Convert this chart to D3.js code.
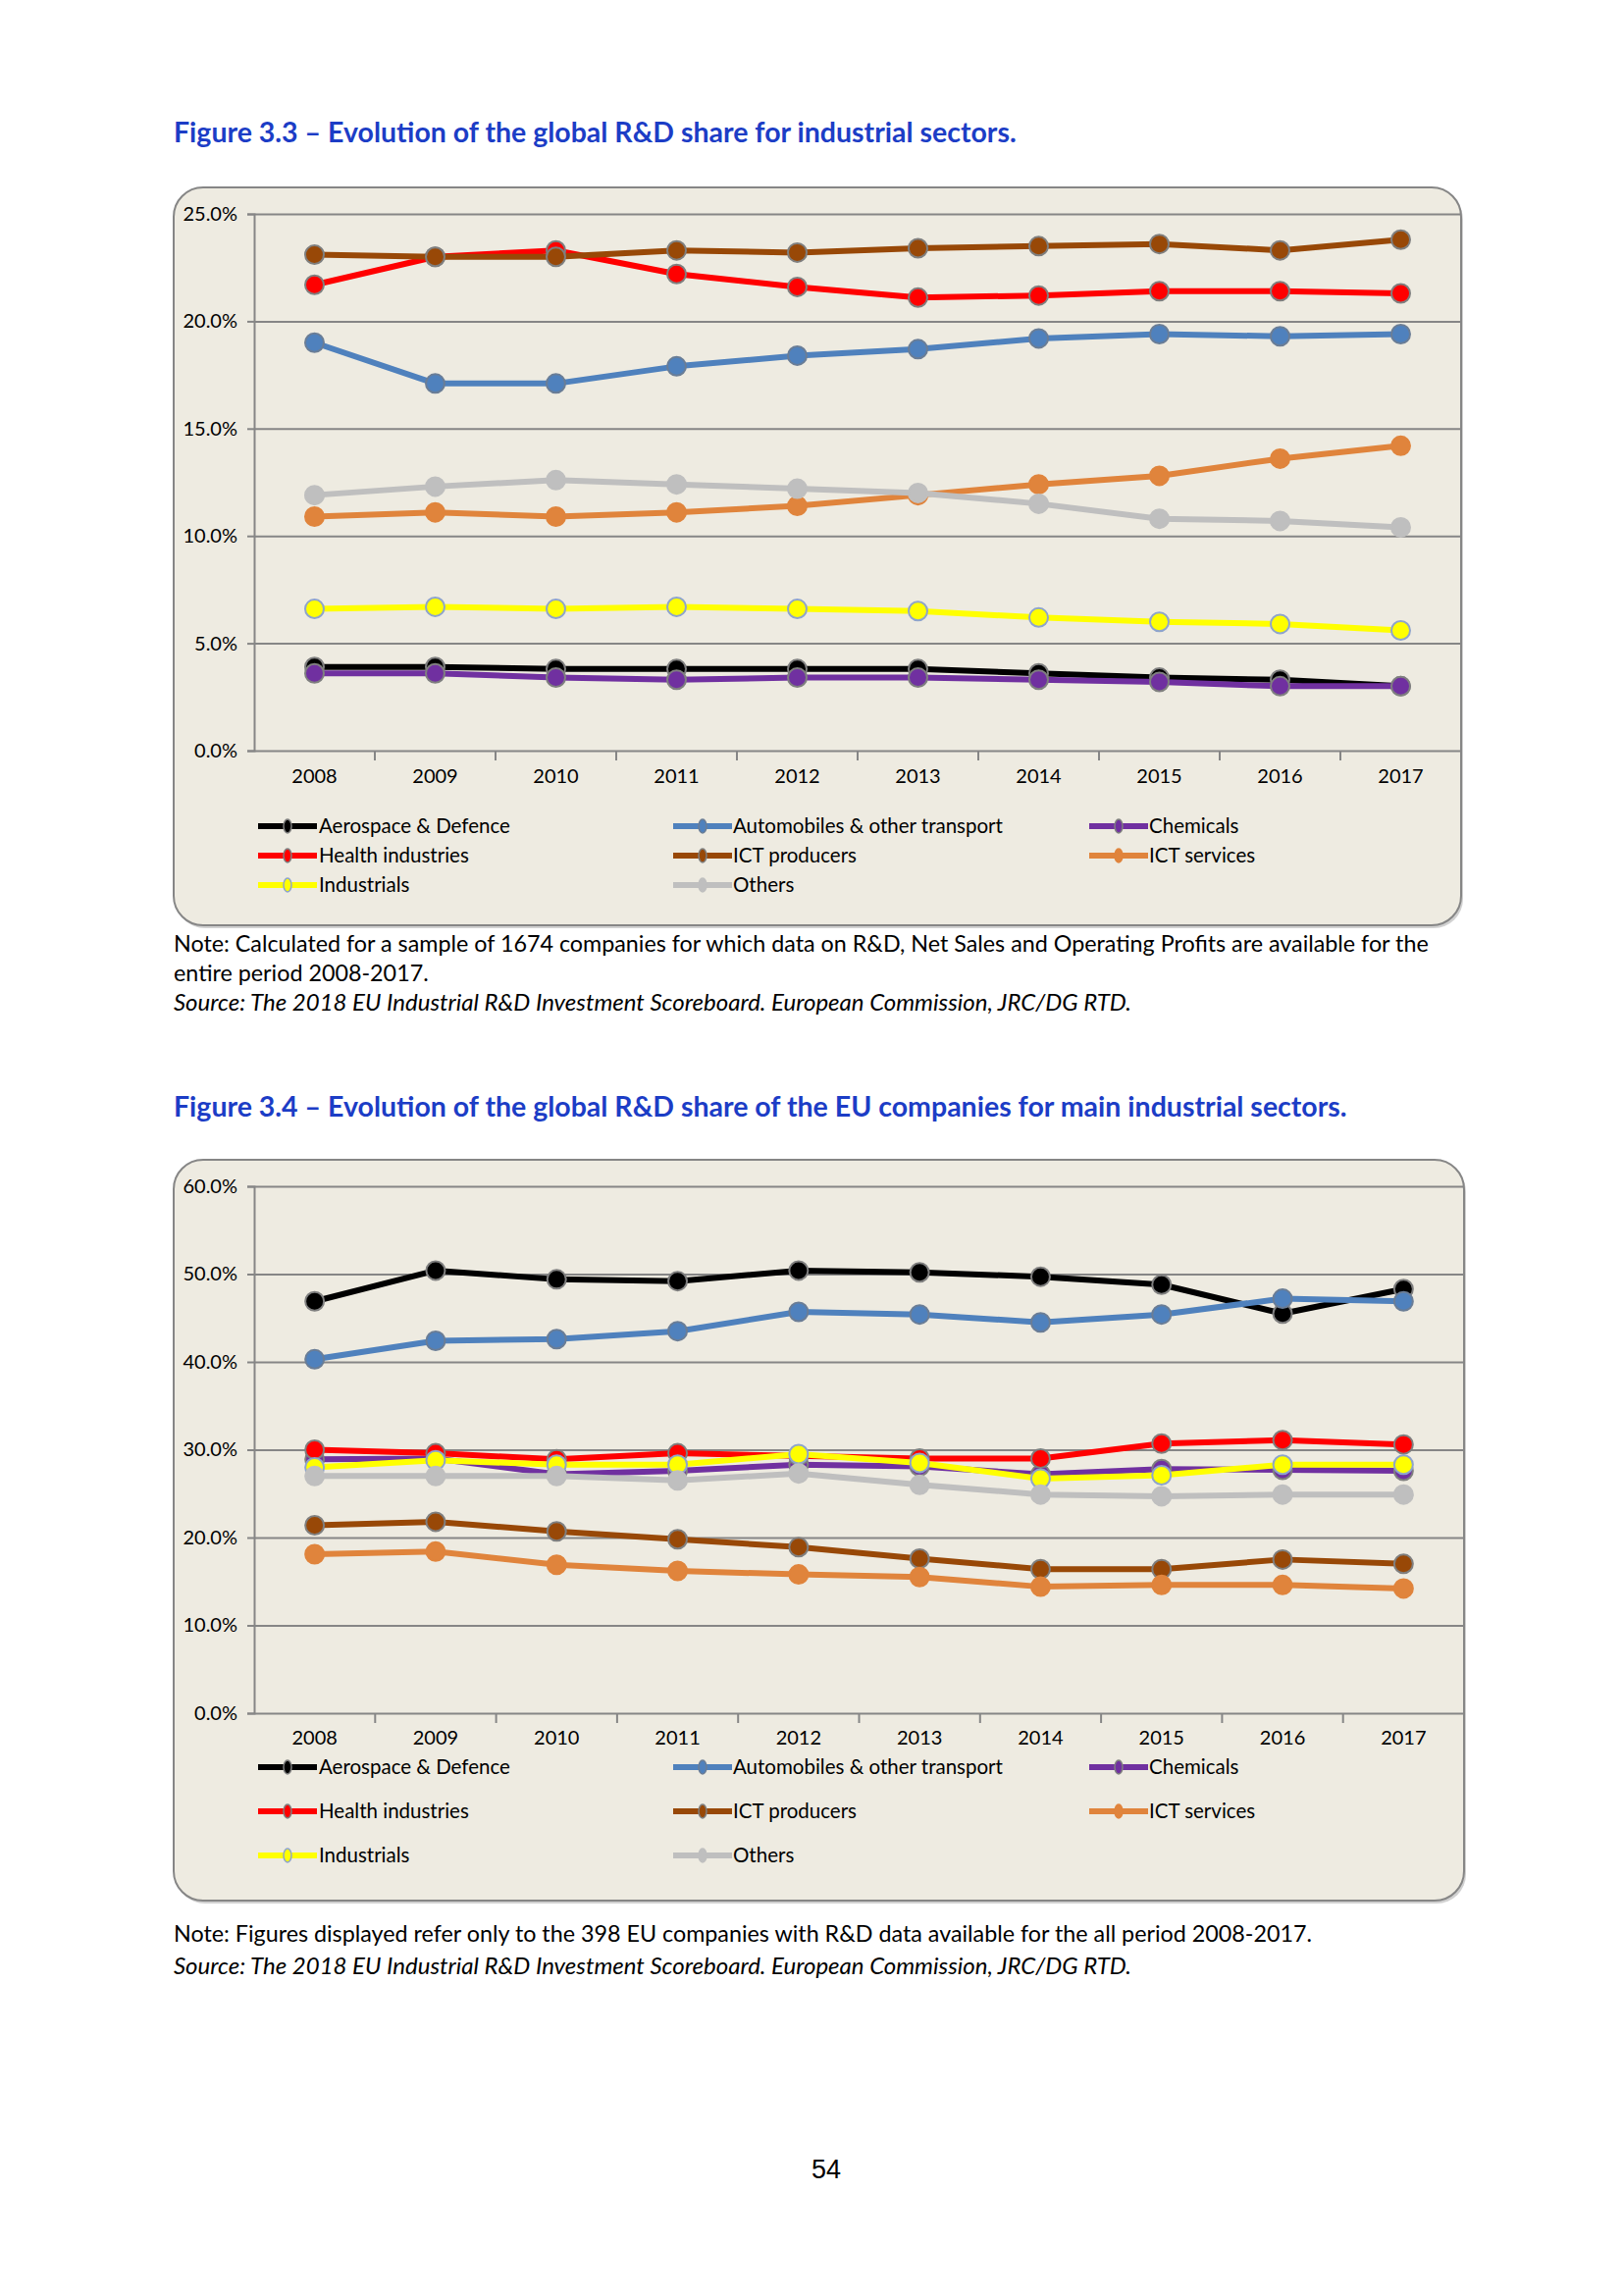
<!DOCTYPE html>
<html>
<head>
<meta charset="utf-8">
<script src="https://cdn.jsdelivr.net/npm/d3@7/dist/d3.min.js"></script>
<style>
  body { margin: 0; background: #ffffff; }
  svg { display: block; }
</style>
</head>
<body>
<svg id="page"></svg>
<script>
// data (values in %)
const years = ["2008", "2009", "2010", "2011", "2012", "2013", "2014", "2015", "2016", "2017"];

const sectors = [
  "Aerospace & Defence", "Automobiles & other transport", "Chemicals",
  "Health industries", "ICT producers", "ICT services", "Industrials", "Others"
];

// Figure 3.3 - global R&D share
const aero33 = [3.9, 3.9, 3.8, 3.8, 3.8, 3.8, 3.6, 3.4, 3.3, 3.0];
const auto33 = [19.0, 17.1, 17.1, 17.9, 18.4, 18.7, 19.2, 19.4, 19.3, 19.4];
const chem33 = [3.6, 3.6, 3.4, 3.3, 3.4, 3.4, 3.3, 3.2, 3.0, 3.0];
const health33 = [21.7, 23.0, 23.3, 22.2, 21.6, 21.1, 21.2, 21.4, 21.4, 21.3];
const ictProd33 = [23.1, 23.0, 23.0, 23.3, 23.2, 23.4, 23.5, 23.6, 23.3, 23.8];
const ictServ33 = [10.9, 11.1, 10.9, 11.1, 11.4, 11.9, 12.4, 12.8, 13.6, 14.2];
const indus33 = [6.6, 6.7, 6.6, 6.7, 6.6, 6.5, 6.2, 6.0, 5.9, 5.6];
const others33 = [11.9, 12.3, 12.6, 12.4, 12.2, 12.0, 11.5, 10.8, 10.7, 10.4];
const yTicks33 = [0, 5, 10, 15, 20, 25];

// Figure 3.4 - global R&D share of the EU companies
const aero34 = [46.9, 50.4, 49.4, 49.2, 50.4, 50.2, 49.7, 48.8, 45.5, 48.3];
const auto34 = [40.3, 42.4, 42.6, 43.5, 45.7, 45.4, 44.5, 45.4, 47.2, 46.9];
const chem34 = [28.9, 29.0, 27.2, 27.6, 28.3, 28.1, 27.2, 27.8, 27.7, 27.6];
const health34 = [30.0, 29.6, 28.9, 29.6, 29.3, 29.0, 29.0, 30.7, 31.1, 30.6];
const ictProd34 = [21.4, 21.8, 20.7, 19.8, 18.9, 17.6, 16.4, 16.4, 17.5, 17.0];
const ictServ34 = [18.1, 18.4, 16.9, 16.2, 15.8, 15.5, 14.4, 14.6, 14.6, 14.2];
const indus34 = [28.0, 28.8, 28.3, 28.3, 29.5, 28.5, 26.7, 27.1, 28.3, 28.3];
const others34 = [27.0, 27.0, 27.0, 26.5, 27.3, 26.0, 24.9, 24.7, 24.9, 24.9];
const yTicks34 = [0, 10, 20, 30, 40, 50, 60];

const sector_color = {
  "Aerospace & Defence": "#000000",
  "Automobiles & other transport": "#4f81bd",
  "Chemicals": "#7030a0",
  "Health industries": "#ff0000",
  "ICT producers": "#984807",
  "ICT services": "#e0843c",
  "Industrials": "#ffff00",
  "Others": "#bfbfbf",
};
const sector_marker_stroke = {
  "Aerospace & Defence": "#7f7f7f",
  "Automobiles & other transport": "#6a7d96",
  "Chemicals": "#7f7f7f",
  "Health industries": "#7f7f7f",
  "ICT producers": "#7f7f7f",
  "ICT services": "#e0843c",
  "Industrials": "#8ea4cc",
  "Others": "#bfbfbf",
};

const FONT = "Lato, 'Open Sans', sans-serif";
const width = 1654;
const height = 2340;

const svg = d3.select("svg#page")
  .attr("width", width)
  .attr("height", height)
  .attr("viewBox", [0, 0, width, height]);

svg.append("rect").attr("width", width).attr("height", height).attr("fill", "#ffffff");

function drawFigure(cfg) {
  const g = svg.append("g");

  // title
  g.append("text")
    .attr("x", 177)
    .attr("y", cfg.titleY)
    .attr("font-family", FONT)
    .attr("font-weight", "bold")
    .attr("font-size", 28.5)
    .attr("fill", "#1c3dc6")
    .text(cfg.title);

  // chart box with a little shadow
  g.append("rect")
    .attr("x", cfg.box.x + 2).attr("y", cfg.box.y + 3)
    .attr("width", cfg.box.w).attr("height", cfg.box.h)
    .attr("rx", 30).attr("ry", 30)
    .attr("fill", "#9a9a9a").attr("opacity", 0.45);
  g.append("rect")
    .attr("x", cfg.box.x).attr("y", cfg.box.y)
    .attr("width", cfg.box.w).attr("height", cfg.box.h)
    .attr("rx", 30).attr("ry", 30)
    .attr("fill", "#eeebe1")
    .attr("stroke", "#868686")
    .attr("stroke-width", 2);

  const x = d3.scaleBand(years, [cfg.left, cfg.right]).padding(0);
  const y = d3.scaleLinear([0, d3.max(cfg.yTicks)], [cfg.bottom, cfg.top]);

  // y axis with grid lines
  g.append("g")
    .attr("transform", `translate(${cfg.left},0)`)
    .call(d3.axisLeft(y).tickValues(cfg.yTicks).tickSize(7).tickPadding(10).tickFormat(d => d.toFixed(1) + "%"))
    .call(a => a.select(".domain").attr("stroke", "#868686").attr("stroke-width", 2))
    .call(a => a.selectAll(".tick line").attr("stroke", "#868686").attr("stroke-width", 2))
    .call(a => a.selectAll(".tick line").clone()
      .attr("x1", 0)
      .attr("x2", cfg.right - cfg.left))
    .call(a => a.selectAll(".tick text")
      .attr("font-family", FONT)
      .attr("font-size", 20)
      .attr("fill", "#000000"));

  // x axis: labels centred in each band, ticks on the band edges
  const xAxis = g.append("g")
    .attr("transform", `translate(0,${cfg.bottom})`)
    .call(d3.axisBottom(x).tickSize(0).tickPadding(cfg.xLabelPad))
    .call(a => a.select(".domain").remove())
    .call(a => a.selectAll(".tick text")
      .attr("font-family", FONT)
      .attr("font-size", 20)
      .attr("fill", "#000000"));

  const edges = years.map(d => x(d)).concat([x.range()[1]]);
  xAxis.selectAll("line.edge")
    .data(edges.slice(1))
    .join("line")
    .attr("class", "edge")
    .attr("x1", d => d).attr("x2", d => d)
    .attr("y1", 0).attr("y2", 10)
    .attr("stroke", "#868686")
    .attr("stroke-width", 2);

  const line = d3.line()
    .x((d, i) => x(years[i]) + x.bandwidth() / 2)
    .y(d => y(d));

  for (let i = 0; i < sectors.length; i++) {
    let key = sectors[i];
    let values = cfg.series[i];
    const s = g.append("g");
    s.append("path")
      .attr("fill", "none")
      .attr("stroke", sector_color[key])
      .attr("stroke-width", 6)
      .attr("stroke-linejoin", "round")
      .attr("d", line(values));
    s.selectAll("circle")
      .data(values)
      .join("circle")
      .attr("cx", (d, j) => x(years[j]) + x.bandwidth() / 2)
      .attr("cy", d => y(d))
      .attr("r", 9.5)
      .attr("fill", sector_color[key])
      .attr("stroke", sector_marker_stroke[key])
      .attr("stroke-width", 2);
  }

  // legend, 3 columns
  const colSymbol = [263, 686, 1110];
  const colText = [325, 747, 1171];
  for (let i = 0; i < sectors.length; i++) {
    let key = sectors[i];
    let row = Math.floor(i / 3);
    let col = i % 3;
    let cy = cfg.legendRows[row];
    g.append("line")
      .attr("x1", colSymbol[col]).attr("x2", colSymbol[col] + 60)
      .attr("y1", cy).attr("y2", cy)
      .attr("stroke", sector_color[key])
      .attr("stroke-width", 6);
    g.append("ellipse")
      .attr("cx", colSymbol[col] + 30).attr("cy", cy)
      .attr("rx", 4).attr("ry", 7)
      .attr("fill", sector_color[key])
      .attr("stroke", sector_marker_stroke[key])
      .attr("stroke-width", 1.5);
    g.append("text")
      .attr("x", colText[col])
      .attr("y", cy + 7)
      .attr("font-family", FONT)
      .attr("font-size", 20.5)
      .attr("fill", "#000000")
      .text(key);
  }

  // notes under the box
  cfg.notes.forEach((n, i) => {
    g.append("text")
      .attr("x", 177)
      .attr("y", cfg.notesY[i])
      .attr("font-family", FONT)
      .attr("font-size", n.italic ? 24 : 23.3)
      .attr("font-style", n.italic ? "italic" : "normal")
      .attr("fill", "#000000")
      .text(n.text);
  });
}

drawFigure({
  title: "Figure 3.3 \u2013 Evolution of the global R&D share for industrial sectors.",
  titleY: 145,
  box: { x: 177, y: 191, w: 1312, h: 752 },
  left: 259, right: 1489, top: 218, bottom: 765,
  yTicks: yTicks33,
  xLabelPad: 19,
  series: [aero33, auto33, chem33, health33, ictProd33, ictServ33, indus33, others33],
  legendRows: [842, 872, 902],
  notes: [
    { text: "Note: Calculated for a sample of 1674 companies for which data on R&D, Net Sales and Operating Profits are available for the" },
    { text: "entire period 2008-2017." },
    { text: "Source: The 2018 EU Industrial R&D Investment Scoreboard. European Commission, JRC/DG RTD.", italic: true },
  ],
  notesY: [970, 1000, 1030],
});

drawFigure({
  title: "Figure 3.4 \u2013 Evolution of the global R&D share of the EU companies for main industrial sectors.",
  titleY: 1138,
  box: { x: 177, y: 1182, w: 1315, h: 755 },
  left: 259, right: 1492, top: 1209, bottom: 1746,
  yTicks: yTicks34,
  xLabelPad: 18,
  series: [aero34, auto34, chem34, health34, ictProd34, ictServ34, indus34, others34],
  legendRows: [1801, 1846, 1891],
  notes: [
    { text: "Note: Figures displayed refer only to the 398 EU companies with R&D data available for the all period 2008-2017." },
    { text: "Source: The 2018 EU Industrial R&D Investment Scoreboard. European Commission, JRC/DG RTD.", italic: true },
  ],
  notesY: [1979, 2012],
});

// page number
svg.append("text")
  .attr("x", 842)
  .attr("y", 2220)
  .attr("text-anchor", "middle")
  .attr("font-family", "'Liberation Sans', Arial, sans-serif")
  .attr("font-size", 27)
  .attr("fill", "#000000")
  .text("54");
</script>
</body>
</html>
